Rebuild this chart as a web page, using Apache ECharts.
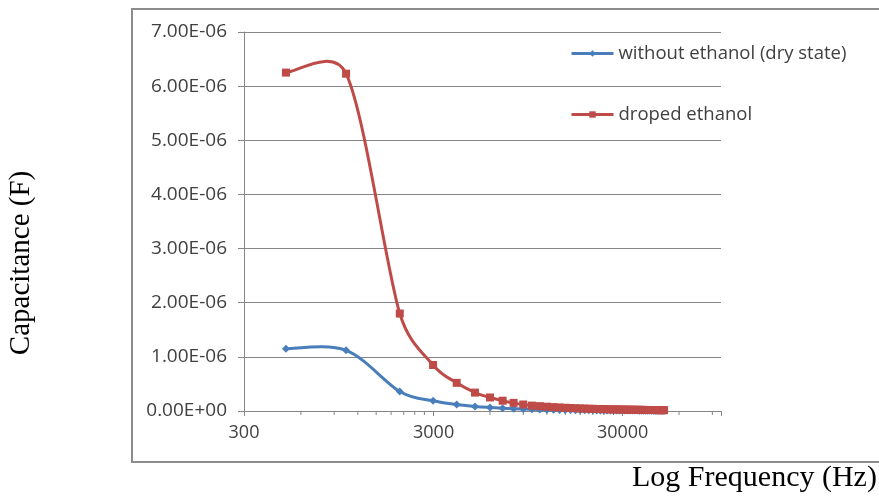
<!DOCTYPE html>
<html>
<head>
<meta charset="utf-8">
<script src="https://cdn.jsdelivr.net/npm/echarts@6/dist/echarts.min.js"></script>
<style>
  html, body { margin: 0; padding: 0; background: #fff; }
  #chart { width: 879px; height: 503px; }
</style>
</head>
<body>
<div id="chart"></div>
<script>
// 频率 (Hz)
var freq = [500, 1040, 2000, 3000, 4000, 5000, 6000, 7000, 8000, 9000,
    10000, 11000, 12000, 13000, 14000, 15000, 16000, 17000, 18000, 19000,
    20000, 21000, 22000, 23000, 24000, 25000, 26000, 27000, 28000, 29000,
    30000, 31000, 32000, 33000, 34000, 35000, 36000, 37000, 38000, 39000,
    40000, 41000, 42000, 43000, 44000, 45000, 46000, 47000, 48000, 49000, 50000];

// without ethanol (dry state)
var dryCap = [1.15e-6, 1.12e-6, 0.36e-6, 0.19e-6, 0.12e-6, 0.085e-6, 0.065e-6, 0.052e-6, 0.043e-6, 0.037e-6,
    0.032e-6, 0.028e-6, 0.025e-6, 0.022e-6, 0.020e-6, 0.018e-6, 0.017e-6, 0.015e-6, 0.014e-6, 0.013e-6,
    0.012e-6, 0.012e-6, 0.011e-6, 0.011e-6, 0.010e-6, 0.010e-6, 0.009e-6, 0.009e-6, 0.009e-6, 0.008e-6,
    0.008e-6, 0.008e-6, 0.008e-6, 0.007e-6, 0.007e-6, 0.007e-6, 0.007e-6, 0.006e-6, 0.006e-6, 0.006e-6,
    0.006e-6, 0.006e-6, 0.005e-6, 0.005e-6, 0.005e-6, 0.005e-6, 0.005e-6, 0.005e-6, 0.004e-6, 0.004e-6, 0.004e-6];

// droped ethanol
var wetCap = [6.25e-6, 6.23e-6, 1.80e-6, 0.85e-6, 0.52e-6, 0.34e-6, 0.25e-6, 0.19e-6, 0.15e-6, 0.12e-6,
    0.10e-6, 0.09e-6, 0.08e-6, 0.072e-6, 0.066e-6, 0.060e-6, 0.056e-6, 0.052e-6, 0.048e-6, 0.045e-6,
    0.042e-6, 0.040e-6, 0.038e-6, 0.036e-6, 0.034e-6, 0.033e-6, 0.031e-6, 0.030e-6, 0.029e-6, 0.028e-6,
    0.027e-6, 0.026e-6, 0.025e-6, 0.024e-6, 0.024e-6, 0.023e-6, 0.022e-6, 0.022e-6, 0.021e-6, 0.020e-6,
    0.020e-6, 0.019e-6, 0.019e-6, 0.018e-6, 0.018e-6, 0.017e-6, 0.017e-6, 0.016e-6, 0.016e-6, 0.016e-6, 0.015e-6];

// x轴次刻度
var minorTicks = [600, 900, 1200, 1500, 1800, 2100, 2400, 2700,
    6000, 9000, 12000, 15000, 18000, 21000, 24000, 27000, 60000, 90000];

var seriesNames = ['without ethanol (dry state)', 'droped ethanol'];
var blue = '#4a7ebb';
var red = '#be4b48';

var oChart = echarts.init(document.getElementById('chart'));

function pairs(xs, ys) {
    var out = [];
    for (var i = 0; i < xs.length; i++) {
        out.push([xs[i], ys[i]]);
    }
    return out;
}

// 7.00E-06 这种格式
function sci(v) {
    var s = v.toExponential(2).split('e');
    var e = parseInt(s[1], 10);
    var sign = e < 0 ? '-' : '+';
    e = Math.abs(e);
    return s[0] + 'E' + sign + (e < 10 ? '0' + e : e);
}

// 类似excel的平滑曲线, 每个数据项画一段贝塞尔
function smoothSegment(xs, ys, color) {
    return function (params, api) {
        var i = params.dataIndex;
        if (i >= xs.length - 1) return null;
        var p = [];
        for (var k = i - 1; k <= i + 2; k++) {
            var kk = Math.max(0, Math.min(xs.length - 1, k));
            p.push(api.coord([xs[kk], ys[kk]]));
        }
        var seg = Math.sqrt(Math.pow(p[2][0] - p[1][0], 2) + Math.pow(p[2][1] - p[1][1], 2));
        var t1 = [(p[2][0] - p[0][0]) / 6, (p[2][1] - p[0][1]) / 6];
        var t2 = [(p[3][0] - p[1][0]) / 6, (p[3][1] - p[1][1]) / 6];
        var l1 = Math.sqrt(t1[0] * t1[0] + t1[1] * t1[1]);
        var l2 = Math.sqrt(t2[0] * t2[0] + t2[1] * t2[1]);
        if (l1 > seg / 2) { t1[0] *= seg / 2 / l1; t1[1] *= seg / 2 / l1; }
        if (l2 > seg / 2) { t2[0] *= seg / 2 / l2; t2[1] *= seg / 2 / l2; }
        return {
            type: 'bezierCurve',
            shape: {
                x1: p[1][0], y1: p[1][1],
                x2: p[2][0], y2: p[2][1],
                cpx1: p[1][0] + t1[0], cpy1: p[1][1] + t1[1],
                cpx2: p[2][0] - t2[0], cpy2: p[2][1] - t2[1]
            },
            style: { stroke: color, lineWidth: 3, fill: 'none', lineCap: 'round' }
        };
    };
}

var labelFont = '"Open Sans", "DejaVu Sans", sans-serif';
var titleFont = '"Liberation Serif", "DejaVu Serif", serif';

var opt = {
    animation: false,
    backgroundColor: '#fff',
    grid: {
        left: 244,
        right: 158,
        top: 32,
        bottom: 92
    },
    legend: {
        orient: 'vertical',
        left: 570,
        top: 44,
        padding: 0,
        itemWidth: 42,
        itemHeight: 8,
        itemGap: 42,
        data: [
            { name: seriesNames[0], lineStyle: { color: blue, width: 3, opacity: 1 } },
            { name: seriesNames[1], lineStyle: { color: red, width: 3, opacity: 1 } }
        ],
        textStyle: { fontFamily: labelFont, fontSize: 18.5, color: '#404040' }
    },
    xAxis: {
        type: 'log',
        logBase: 10,
        min: 300,
        max: 100000,
        interval: 1,
        axisLine: { lineStyle: { color: '#868686', width: 1 } },
        axisTick: { show: true, length: 5, lineStyle: { color: '#868686' } },
        splitLine: { show: false },
        axisLabel: {
            fontFamily: labelFont,
            fontSize: 18,
            color: '#404040',
            margin: 13,
            formatter: function (v) {
                if (v > 50000) return '';
                return String(Number(v.toPrecision(2)));
            }
        }
    },
    yAxis: {
        type: 'value',
        min: 0,
        max: 7e-6,
        interval: 1e-6,
        axisLine: { show: true, lineStyle: { color: '#868686', width: 1 } },
        axisTick: { show: true, length: 6, lineStyle: { color: '#868686' } },
        splitLine: { show: true, lineStyle: { color: '#868686', width: 1 } },
        axisLabel: {
            fontFamily: labelFont,
            fontSize: 19,
            color: '#404040',
            margin: 17,
            formatter: sci
        }
    },
    series: [
        {
            name: 'dryCurve',
            type: 'custom',
            silent: true,
            data: pairs(freq, dryCap),
            renderItem: smoothSegment(freq, dryCap, blue),
            z: 2
        },
        {
            name: seriesNames[0],
            type: 'line',
            symbol: 'diamond',
            symbolSize: 8,
            color: blue,
            lineStyle: { color: blue, width: 0, opacity: 0 },
            itemStyle: { color: blue },
            data: pairs(freq, dryCap),
            z: 3
        },
        {
            name: 'wetCurve',
            type: 'custom',
            silent: true,
            data: pairs(freq, wetCap),
            renderItem: smoothSegment(freq, wetCap, red),
            z: 4
        },
        {
            name: seriesNames[1],
            type: 'line',
            symbol: 'rect',
            symbolSize: 8,
            color: red,
            lineStyle: { color: red, width: 0, opacity: 0 },
            itemStyle: { color: red },
            data: pairs(freq, wetCap),
            z: 5
        },
        {
            // 次刻度线
            name: 'minorTick',
            type: 'custom',
            silent: true,
            clip: false,
            data: pairs(minorTicks, minorTicks.map(function () { return 0; })),
            renderItem: function (params, api) {
                var p = api.coord([api.value(0), 0]);
                return {
                    type: 'line',
                    shape: { x1: p[0], y1: p[1], x2: p[0], y2: p[1] + 4 },
                    style: { stroke: '#868686', lineWidth: 1 }
                };
            },
            z: 1
        }
    ],
    graphic: [
        {
            type: 'rect',
            shape: { x: 132, y: 9, width: 800, height: 453 },
            style: { fill: 'none', stroke: '#8c8c8c', lineWidth: 2 },
            silent: true
        },
        {
            type: 'text',
            x: 632,
            y: 478,
            style: {
                text: 'Log Frequency (Hz)',
                font: '30px ' + titleFont,
                fill: '#000',
                textAlign: 'left',
                textVerticalAlign: 'middle'
            }
        },
        {
            type: 'text',
            x: 21,
            y: 263,
            rotation: Math.PI / 2,
            style: {
                text: 'Capacitance (F)',
                font: '29px ' + titleFont,
                fill: '#000',
                textAlign: 'center',
                textVerticalAlign: 'middle'
            }
        }
    ]
};
oChart.setOption(opt);
</script>
</body>
</html>
